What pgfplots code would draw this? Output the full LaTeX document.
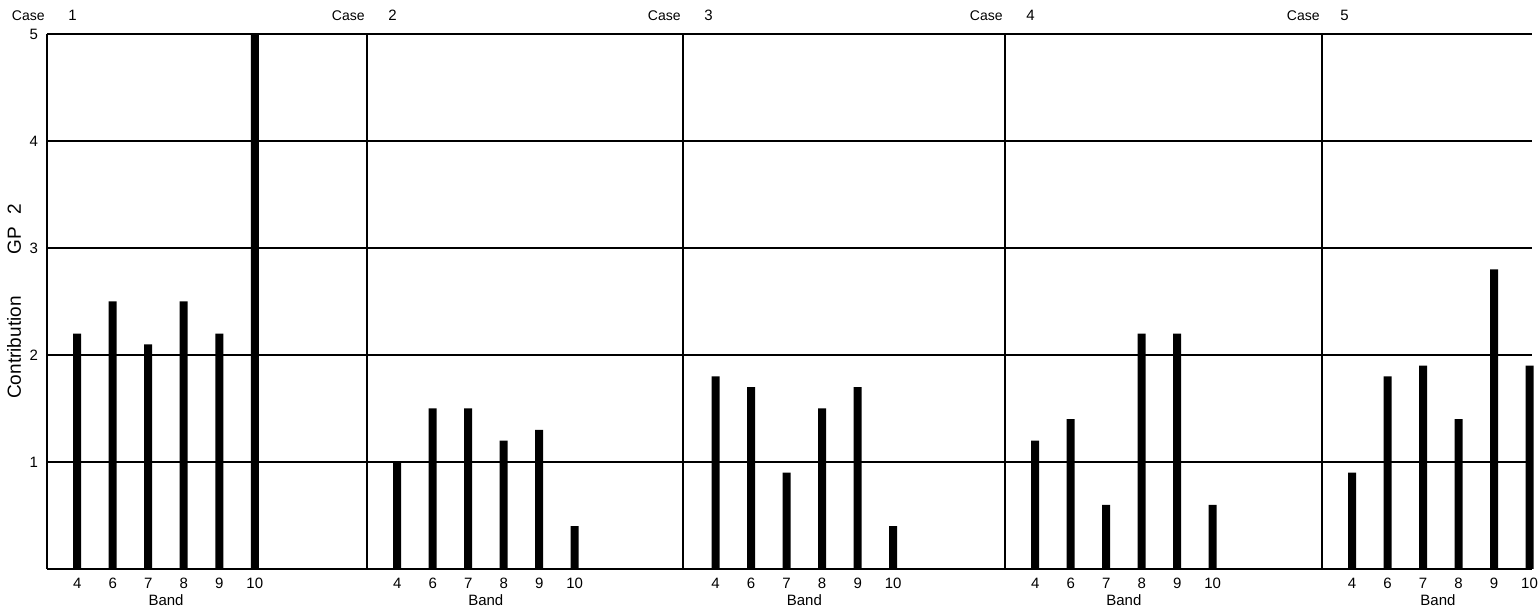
\documentclass[border=0pt]{standalone}
\usepackage{fontspec}
\setmainfont{Liberation Sans}
\usepackage{pgfplots}
\usepackage{pgfplotstable}
\pgfplotsset{compat=1.18}

% x = bar slot in panel, band = band number, y = contribution
\pgfplotstableread{
x    band y
0.85 4    2.2
1.85 6    2.5
2.85 7    2.1
3.85 8    2.5
4.85 9    2.2
5.85 10   5.0
}\caseA
\pgfplotstableread{
x    band y
0.85 4    1.0
1.85 6    1.5
2.85 7    1.5
3.85 8    1.2
4.85 9    1.3
5.85 10   0.4
}\caseB
\pgfplotstableread{
x    band y
0.85 4    1.8
1.85 6    1.7
2.85 7    0.9
3.85 8    1.5
4.85 9    1.7
5.85 10   0.4
}\caseC
\pgfplotstableread{
x    band y
0.85 4    1.2
1.85 6    1.4
2.85 7    0.6
3.85 8    2.2
4.85 9    2.2
5.85 10   0.6
}\caseD
\pgfplotstableread{
x    band y
0.85 4    0.9
1.85 6    1.8
2.85 7    1.9
3.85 8    1.4
4.85 9    2.8
5.85 10   1.9
}\caseE

\begin{document}
\begin{tikzpicture}[font=\fontsize{7}{8.5}\selectfont]
\path[use as bounding box] (-23.5pt,-20.5pt) rectangle (745.5pt,284.5pt);
\pgfplotsset{
  panel/.style={
    scale only axis, height=267.5pt, anchor=south west,
    ymin=0, ymax=5, xmin=0,
    axis x line=bottom, axis y line=left,
    axis line style={-, line width=0.9pt, black},
    ytick={1,2,3,4,5}, ymajorgrids,
    grid style={black, line width=0.9pt},
    major tick length=0pt,
    xtick={0.85,1.85,2.85,3.85,4.85,5.85},
    xticklabels={4,6,7,8,9,10},
    yticklabel style={xshift=-1pt},
    xticklabel style={yshift=-1pt},
    /pgf/number format/assume math mode=true,
    tick label style={font=\fontsize{7.5}{9}\selectfont},
    ybar, bar width=0.225,
    clip=false,
    xlabel={Band},
    xlabel style={font=\fontsize{7.5}{9}\selectfont, anchor=north, yshift=4pt},
  },
}
% Panel 1
\begin{axis}[panel, at={(0pt,0pt)}, width=160pt, xmax=9.01,
  xlabel style={at={(ticklabel cs:0.372)}},
  ylabel={Contribution\hspace{21pt}GP\hspace{6pt}2},
  ylabel style={font=\fontsize{9.5}{11}\selectfont, at={(axis description cs:-0.103,0.5)}, anchor=center}]
\addplot[fill=black, draw=none] table[x=x, y=y] {\caseA};
\node[anchor=base east, inner sep=0pt] at ([yshift=7pt,xshift=-1pt]rel axis cs:0,1) {Case};
\node[anchor=base west, inner sep=0pt] at ([yshift=7pt,xshift=10.5pt]rel axis cs:0,1) {\fontsize{7.5}{9}\selectfont 1};
\end{axis}
% Panel 2
\begin{axis}[panel, at={(160pt,0pt)}, width=158pt, xmax=8.9, yticklabels={},
  xlabel style={at={(ticklabel cs:0.376)}}]
\addplot[fill=black, draw=none] table[x=x, y=y] {\caseB};
\node[anchor=base east, inner sep=0pt] at ([yshift=7pt,xshift=-1pt]rel axis cs:0,1) {Case};
\node[anchor=base west, inner sep=0pt] at ([yshift=7pt,xshift=10.5pt]rel axis cs:0,1) {\fontsize{7.5}{9}\selectfont 2};
\end{axis}
% Panel 3
\begin{axis}[panel, at={(318pt,0pt)}, width=161pt, xmin=-0.07, xmax=9.0, yticklabels={},
  xlabel style={at={(ticklabel cs:0.377)}}]
\addplot[fill=black, draw=none] table[x=x, y=y] {\caseC};
\node[anchor=base east, inner sep=0pt] at ([yshift=7pt,xshift=-1pt]rel axis cs:0,1) {Case};
\node[anchor=base west, inner sep=0pt] at ([yshift=7pt,xshift=10.5pt]rel axis cs:0,1) {\fontsize{7.5}{9}\selectfont 3};
\end{axis}
% Panel 4
\begin{axis}[panel, at={(479pt,0pt)}, width=158.5pt, xmax=8.93, yticklabels={},
  xlabel style={at={(ticklabel cs:0.375)}}]
\addplot[fill=black, draw=none] table[x=x, y=y] {\caseD};
\node[anchor=base east, inner sep=0pt] at ([yshift=7pt,xshift=-1pt]rel axis cs:0,1) {Case};
\node[anchor=base west, inner sep=0pt] at ([yshift=7pt,xshift=10.5pt]rel axis cs:0,1) {\fontsize{7.5}{9}\selectfont 4};
\end{axis}
% Panel 5
\begin{axis}[panel, at={(637.5pt,0pt)}, width=105pt, xmax=5.92, yticklabels={},
  xlabel style={at={(ticklabel cs:0.552)}}]
\addplot[fill=black, draw=none] table[x=x, y=y] {\caseE};
\node[anchor=base east, inner sep=0pt] at ([yshift=7pt,xshift=-1pt]rel axis cs:0,1) {Case};
\node[anchor=base west, inner sep=0pt] at ([yshift=7pt,xshift=9pt]rel axis cs:0,1) {\fontsize{7.5}{9}\selectfont 5};
\end{axis}
\end{tikzpicture}
\end{document}
